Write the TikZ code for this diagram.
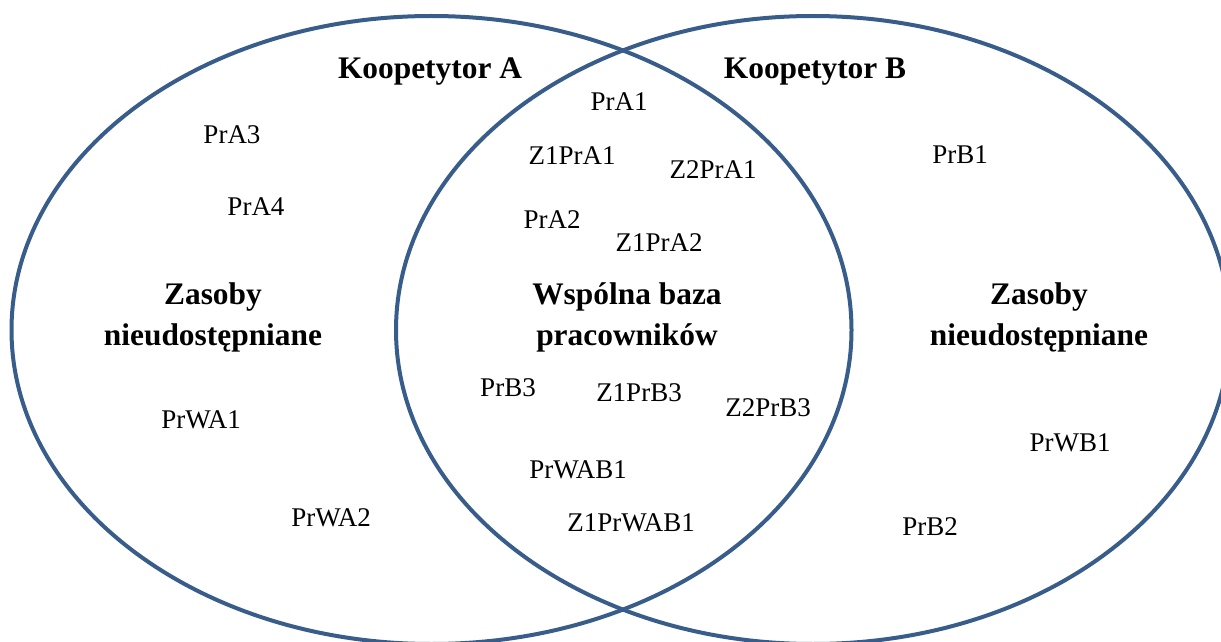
\documentclass[tikz,border=0pt]{standalone}
\usepackage{fontspec}
\setmainfont{Liberation Serif}
\definecolor{ringblue}{HTML}{385D8A}
\tikzset{
  ring/.style={draw=ringblue, line width=2pt},
  head/.style={font=\fontsize{15.7}{18.5}\selectfont\bfseries, align=center, inner sep=0pt},
  item/.style={font=\fontsize{13.5}{16}\selectfont, inner sep=0pt}
}
\begin{document}
\begin{tikzpicture}[x=0.5pt, y=-0.5pt]
  \useasboundingbox (0,0) rectangle (1221,642);
  % the two overlapping sets
  \draw[ring] (431.5,330) ellipse [x radius=420, y radius=314];
  \draw[ring] (813,330) ellipse [x radius=417, y radius=314];

  % set titles
  \node[head] (kA) at (430,72) {Koopetytor A};
  \node[head] (kB) at (815,72) {Koopetytor B};

  % region captions
  \node[head] (zl) at (213,317) {Zasoby\\[2pt]nieudostępniane};
  \node[head] (wb) at (627,317) {Wspólna baza\\[2pt]pracowników};
  \node[head] (zr) at (1039,317) {Zasoby\\[2pt]nieudostępniane};

  % members of A only
  \node[item] (prA3) at (232,135) {PrA3};
  \node[item] (prA4) at (256,207) {PrA4};
  \node[item] (prWA1) at (201,420) {PrWA1};
  \node[item] (prWA2) at (331,518) {PrWA2};

  % shared members
  \node[item] (prA1) at (619,102) {PrA1};
  \node[item] (z1prA1) at (572,156) {Z1PrA1};
  \node[item] (z2prA1) at (713,170) {Z2PrA1};
  \node[item] (prA2) at (552,220) {PrA2};
  \node[item] (z1prA2) at (659,243) {Z1PrA2};
  \node[item] (prB3) at (508,388) {PrB3};
  \node[item] (z1prB3) at (639,393) {Z1PrB3};
  \node[item] (z2prB3) at (768,408) {Z2PrB3};
  \node[item] (prWAB1) at (578,470) {PrWAB1};
  \node[item] (z1prWAB1) at (631,523) {Z1PrWAB1};

  % members of B only
  \node[item] (prB1) at (960,155) {PrB1};
  \node[item] (prWB1) at (1070,443) {PrWB1};
  \node[item] (prB2) at (930,527) {PrB2};
\end{tikzpicture}
\end{document}
